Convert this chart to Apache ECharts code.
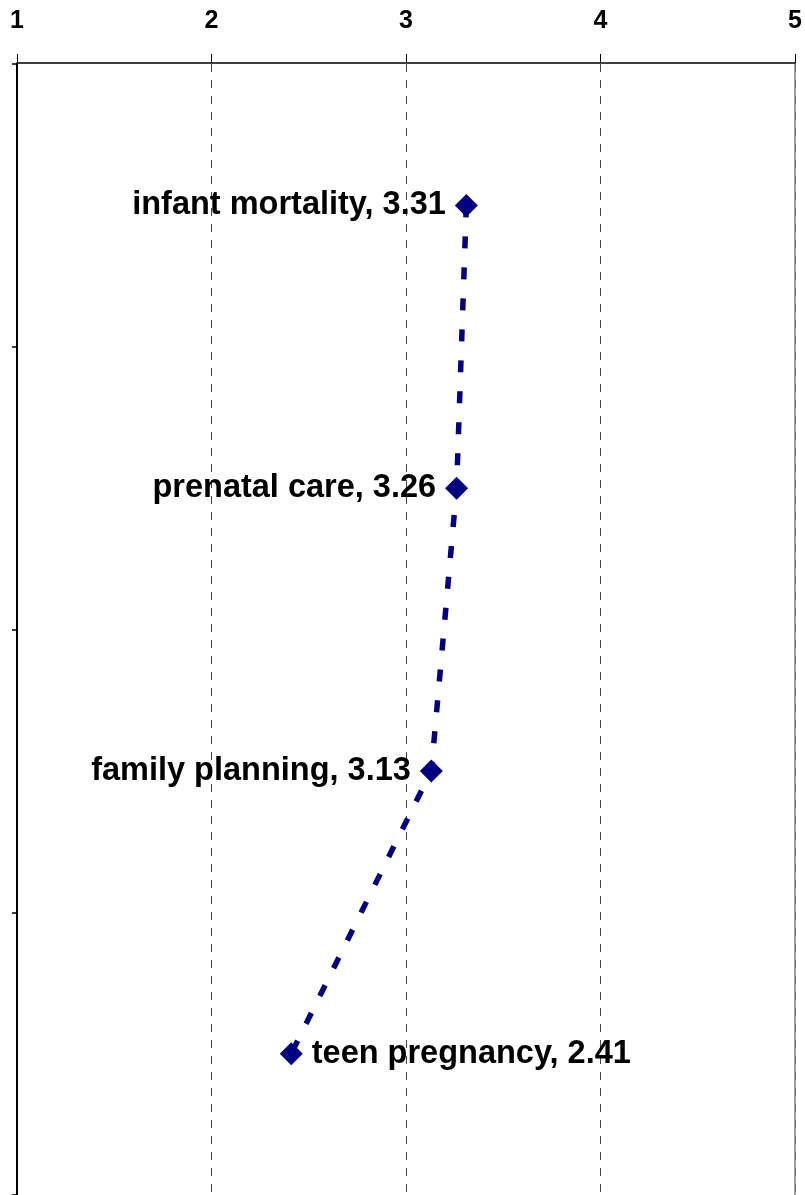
<!DOCTYPE html>
<html>
<head>
<meta charset="utf-8">
<script src="https://cdn.jsdelivr.net/npm/echarts@6/dist/echarts.min.js"></script>
<style>
  html, body { margin: 0; padding: 0; background: #fff; }
  #chart { width: 805px; height: 1195px; }
</style>
</head>
<body>
<div id="chart"></div>
<script>
const categories = ['infant mortality', 'prenatal care', 'family planning', 'teen pregnancy'];
const values = [3.31, 3.26, 3.13, 2.41];
const labelSides = ['left', 'left', 'left', 'right'];
const xMin = 1;
const xMax = 5;
const xStep = 1;

const FONT = '"Liberation Sans", Arial, sans-serif';
const chart = echarts.init(document.getElementById('chart'), null, { renderer: 'canvas' });

chart.setOption({
  animation: false,
  backgroundColor: '#ffffff',
  grid: { left: 17, top: 64, width: 780, height: 1134, containLabel: false },
  xAxis: {
    type: 'value',
    position: 'top',
    offset: 1,
    min: xMin,
    max: xMax,
    interval: xStep,
    axisLine: { show: true, lineStyle: { color: '#000', width: 1.5 } },
    axisTick: { show: true, length: 9, lineStyle: { color: '#000', width: 1 } },
    axisLabel: {
      show: true, margin: 29, color: '#000', fontSize: 25, fontWeight: 'bold', fontFamily: FONT
    },
    splitLine: { show: true, lineStyle: { color: '#444', width: 1, type: [8, 8] } }
  },
  yAxis: [{
    type: 'category',
    inverse: true,
    data: categories,
    boundaryGap: true,
    axisLine: { show: true, onZero: false, lineStyle: { color: '#000', width: 2 } },
    axisTick: { show: true, length: 5, alignWithLabel: false, lineStyle: { color: '#000', width: 1.5 } },
    axisLabel: { show: false },
    splitLine: { show: false }
  }, {
    type: 'category',
    inverse: true,
    position: 'right',
    data: categories,
    axisLine: { show: true, onZero: false, lineStyle: { color: '#808080', width: 1.5 } },
    axisTick: { show: false },
    axisLabel: { show: false },
    splitLine: { show: false }
  }],
  series: [{
    type: 'line',
    yAxisIndex: 0,
    data: values.map((v, i) => ({
      value: [v, categories[i]],
      label: { position: labelSides[i] }
    })),
    symbol: 'diamond',
    symbolSize: 23,
    itemStyle: { color: '#000080' },
    lineStyle: { color: '#000080', width: 5.5, type: [12, 19], cap: 'butt' },
    label: {
      show: true,
      distance: 9,
      color: '#000',
      fontSize: 32.5,
      fontWeight: 'bold',
      fontFamily: FONT,
      formatter: p => categories[p.dataIndex] + ', ' + values[p.dataIndex].toFixed(2)
    },
    z: 5
  }]
});
</script>
</body>
</html>
